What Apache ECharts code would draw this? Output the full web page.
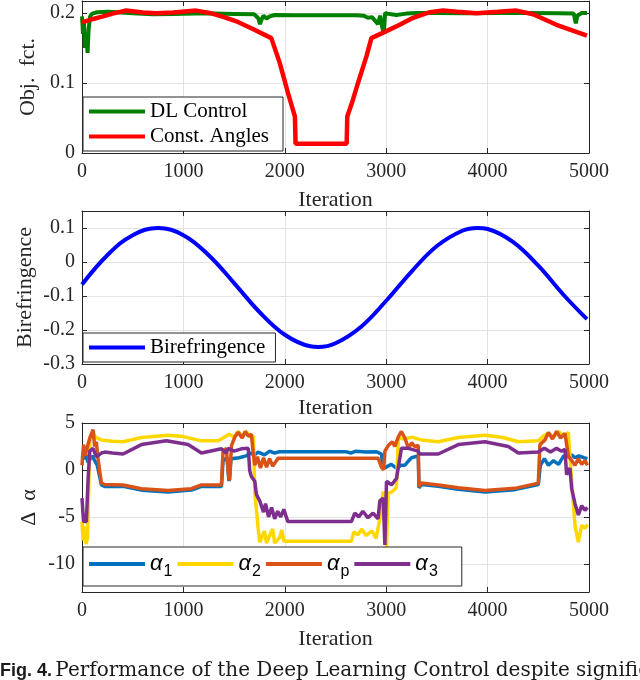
<!DOCTYPE html>
<html>
<head>
<meta charset="utf-8">
<script src="https://cdn.jsdelivr.net/npm/echarts@6/dist/echarts.min.js"></script>
<style>
  html, body { margin: 0; padding: 0; background: #fff; }
  #chart { width: 640px; height: 680px; }
</style>
</head>
<body>
<div id="chart"></div>
<script>
// values, x = iteration
const dlControl = [[0, 0.195], [10, 0.17], [20, 0.186], [30, 0.15], [45, 0.162], [55, 0.143], [65, 0.176], [80, 0.195],
  [100, 0.199], [150, 0.201], [250, 0.2015], [350, 0.201], [500, 0.1995], [700, 0.198], [900, 0.1985], [1100, 0.199],
  [1300, 0.199], [1500, 0.1985], [1700, 0.198], [1740, 0.192], [1755, 0.184], [1770, 0.19], [1790, 0.196], [1820, 0.192],
  [1850, 0.195], [1900, 0.197], [2100, 0.1968], [2400, 0.1967], [2700, 0.1968], [2780, 0.196], [2820, 0.193], [2860, 0.194],
  [2890, 0.189], [2920, 0.184], [2940, 0.196], [2960, 0.18], [2975, 0.172], [2990, 0.2], [3010, 0.199], [3050, 0.198],
  [3100, 0.197], [3200, 0.199], [3300, 0.2], [3500, 0.2], [3800, 0.1995], [4100, 0.2], [4400, 0.2], [4700, 0.1995],
  [4850, 0.199], [4870, 0.185], [4885, 0.196], [4930, 0.2], [4980, 0.2]]
const constAngles = [[0, 0.1866], [100, 0.191], [207, 0.195], [300, 0.199], [437, 0.2035], [600, 0.2005], [733, 0.1995],
  [900, 0.2005], [1127, 0.2033], [1259, 0.2], [1400, 0.194], [1522, 0.188], [1700, 0.176], [1867, 0.164], [1949, 0.129],
  [2031, 0.086], [2100, 0.052], [2106, 0.0133], [2610, 0.0133], [2616, 0.052], [2670, 0.075], [2722, 0.1], [2805, 0.138],
  [2854, 0.164], [3002, 0.174], [3133, 0.183], [3265, 0.193], [3430, 0.201], [3561, 0.2033], [3700, 0.2015], [3890, 0.1995],
  [4100, 0.2015], [4284, 0.2033], [4449, 0.198], [4679, 0.183], [4980, 0.1676]]

const birefringence = [[0, -0.066], [250, 0.02], [500, 0.079], [750, 0.1], [1000, 0.079], [1250, 0.02], [1500, -0.062],
  [1750, -0.147], [2000, -0.214], [2250, -0.248], [2330, -0.25], [2500, -0.239], [2750, -0.191], [3000, -0.114],
  [3250, -0.028], [3500, 0.047], [3750, 0.092], [3900, 0.1], [4000, 0.097], [4250, 0.059], [4500, -0.011],
  [4750, -0.097], [4980, -0.168]]

const alpha1 = [[0, 1.5], [20, 1.2], [40, 1.6], [60, 0.8], [100, 1.5], [150, 0.5], [180, -1.0], [191, -1.6], [224, -1.75],
  [405, -1.75], [586, -2.15], [849, -2.35], [1079, -2.15], [1178, -1.75], [1375, -1.75], [1391, 1.0], [1430, 1.3],
  [1450, -1.2], [1470, 1.2], [1550, 1.3], [1620, 1.5], [1660, 1.8], [1700, 1.6], [1737, 1.9], [1800, 1.6], [1850, 2.0],
  [1900, 1.8], [1950, 1.95], [2600, 1.95], [2650, 1.8], [2700, 2.0], [2800, 1.9], [2900, 1.95], [2953, 1.7], [2970, 0.2],
  [3000, 0.3], [3050, 0.6], [3100, 0.2], [3150, 0.5], [3185, 0.5], [3215, 0.9], [3250, 1.3], [3316, 1.5], [3323, -1.9],
  [3349, -1.55], [3513, -1.75], [3711, -2.05], [3974, -2.35], [4270, -2.1], [4500, -1.55], [4520, 0.5], [4560, 1.2],
  [4600, 0.5], [4650, 1.0], [4700, 0.6], [4750, 1.5], [4800, 1.4], [4829, 1.6], [4862, 1.3], [4900, 1.5], [4950, 1.3],
  [4985, 1.2]]
const alpha2 = [[0, -5.5], [10, -7.5], [25, -6], [40, -7.9], [55, -7.2], [70, 0], [80, 3.4], [109, 4.1], [130, 3.5],
  [191, 3.2], [300, 3.05], [405, 3.0], [586, 3.46], [849, 3.7], [1000, 3.55], [1178, 3.1], [1345, 3.1], [1391, 3.4],
  [1450, 3.8], [1500, 3.5], [1540, 4.1], [1580, 3.6], [1620, 4.1], [1660, 3.5], [1690, 3.6], [1704, -2.3], [1737, -6.2],
  [1753, -7.7], [1800, -6.5], [1820, -7.8], [1850, -7.0], [1880, -6.3], [1900, -7.8], [1950, -7.2], [1970, -6.4],
  [1990, -7.6], [2032, -7.6], [2657, -7.6], [2680, -6.6], [2720, -6.9], [2760, -6.3], [2800, -7.0], [2860, -6.5],
  [2900, -7.3], [2937, -5.2], [2970, -2.3], [2985, -4], [3003, -8.2], [3020, -2.5], [3060, -2.3], [3100, -1.9],
  [3120, 3.4], [3185, 3.3], [3250, 3.5], [3349, 3.2], [3513, 3.0], [3711, 3.46], [3974, 3.7], [4150, 3.45], [4303, 3.0],
  [4500, 3.1], [4550, 3.6], [4600, 3.9], [4650, 3.5], [4700, 4.1], [4750, 3.6], [4796, 4.0], [4829, -1.2], [4862, -5.9],
  [4895, -7.7], [4928, -5.9], [4960, -6.2], [4985, -5.8]]
const alphaP = [[0, 0.5], [15, 2.7], [30, 1.5], [59, 2.7], [80, 3.5], [109, 4.3], [125, 2.5], [141, 3.0], [160, 1.0],
  [174, 0.9], [191, -1.4], [224, -1.55], [405, -1.6], [586, -2.0], [849, -2.2], [1079, -2.0], [1178, -1.6], [1375, -1.6],
  [1391, 2.0], [1424, 2.3], [1445, -0.6], [1457, -1.1], [1474, 2.6], [1507, 3.5], [1540, 4.0], [1580, 3.4], [1610, 4.1],
  [1640, 3.6], [1670, 3.8], [1687, 2.0], [1704, 0.5], [1730, 1.4], [1760, 0.2], [1790, 1.3], [1820, 0.3], [1850, 1.2],
  [1880, 0.4], [1934, 1.25], [2920, 1.25], [2953, 0.3], [2975, 0], [2987, 2.0], [3020, 2.6], [3060, 3.0], [3085, 2.5],
  [3118, 3.5], [3150, 4.1], [3184, 3.4], [3220, 2.3], [3250, 2.9], [3280, 2.5], [3316, 2.6], [3323, -1.8], [3349, -1.4],
  [3513, -1.6], [3711, -1.9], [3974, -2.2], [4270, -1.96], [4500, -1.4], [4516, 2.7], [4566, 3.2], [4600, 4.0],
  [4640, 3.3], [4680, 4.1], [4720, 3.4], [4763, 3.9], [4796, 1.5], [4829, 1.0], [4862, 0.5], [4895, 1.2], [4928, 0.6],
  [4960, 1.0], [4985, 0.5]]
const alpha3 = [[0, -3.0], [15, -5.5], [43, -5.5], [60, -1], [76, 2.0], [109, 2.3], [141, 1.4], [191, 1.8], [224, 1.9],
  [300, 1.8], [405, 1.7], [586, 2.7], [833, 3.1], [1046, 2.7], [1178, 1.8], [1375, 2.25], [1420, 1.8], [1441, 2.3],
  [1500, 2.0], [1572, 2.25], [1640, 2.3], [1654, -0.1], [1670, -0.7], [1704, -1.2], [1720, -2.6], [1753, -3.3],
  [1790, -4.5], [1810, -3.6], [1840, -5.0], [1870, -4.0], [1900, -5.2], [1930, -4.4], [1960, -5.0], [1990, -4.2],
  [2030, -5.5], [2657, -5.5], [2690, -4.6], [2730, -5.0], [2770, -4.4], [2820, -5.1], [2870, -4.6], [2920, -5.2],
  [2937, -3.3], [2970, -3.0], [2987, -8.0], [3003, -1.2], [3052, -1.6], [3102, -0.9], [3150, 2.3], [3217, 2.3],
  [3316, 2.0], [3330, 1.7], [3349, 1.8], [3513, 1.7], [3711, 2.7], [3974, 3.0], [4204, 2.5], [4303, 1.8], [4500, 1.9],
  [4560, 2.3], [4620, 1.9], [4680, 2.3], [4730, 2.0], [4763, 2.2], [4779, -0.5], [4812, 0.2], [4829, -2.0],
  [4862, -3.6], [4895, -4.8], [4928, -3.8], [4960, -4.3], [4985, -4.0]]

const SERIF = 'Liberation Serif'
const AX = '#262626'
const GRIDC = '#e3e3e3'

function xAxes(gi, nameGap) {
  return [
    {
      type: 'value', gridIndex: gi, position: 'bottom', min: 0, max: 5000, interval: 1000,
      name: 'Iteration', nameLocation: 'middle', nameGap: nameGap,
      nameTextStyle: { fontFamily: SERIF, fontSize: 22, color: AX },
      axisLine: { onZero: false, lineStyle: { color: AX } },
      axisTick: { inside: true, length: 5, lineStyle: { color: AX } },
      axisLabel: { fontFamily: SERIF, fontSize: 20, color: AX, margin: 9, formatter: v => String(v) },
      splitLine: { lineStyle: { color: GRIDC } }
    },
    {
      type: 'value', gridIndex: gi, position: 'top', min: 0, max: 5000, interval: 1000,
      axisLine: { onZero: false, lineStyle: { color: AX } },
      axisTick: { inside: true, length: 5, lineStyle: { color: AX } },
      axisLabel: { show: false }, splitLine: { show: false }
    }
  ]
}

function yAxes(gi, min, max, step, name, nameGap, fmt) {
  const base = { type: 'value', gridIndex: gi, min: min, max: max, minInterval: step, maxInterval: step, splitNumber: 4 }
  return [
    Object.assign({}, base, {
      position: 'left',
      name: name, nameLocation: 'middle', nameGap: nameGap, nameMoveOverlap: false,
      nameTextStyle: { fontFamily: SERIF, fontSize: 22, color: AX },
      axisLine: { show: true, onZero: false, lineStyle: { color: AX } },
      axisTick: { show: true, inside: true, length: 5, lineStyle: { color: AX } },
      axisLabel: { fontFamily: SERIF, fontSize: 20, color: AX, margin: 7, formatter: fmt },
      splitLine: { lineStyle: { color: GRIDC } }
    }),
    Object.assign({}, base, {
      position: 'right',
      axisLine: { show: true, onZero: false, lineStyle: { color: AX } },
      axisTick: { show: true, inside: true, length: 5, lineStyle: { color: AX } },
      axisLabel: { show: false }, splitLine: { show: false }
    })
  ]
}

// only label the round ticks, not the padded axis ends
const fmtTenth = v => Math.abs(v * 10 - Math.round(v * 10)) < 1e-6 ? String(+v.toFixed(1)) : ''
const fmtFive = v => v % 5 === 0 ? String(v) : ''

function line(name, data, color, xi, yi, width, smooth) {
  return {
    name: name, type: 'line', data: data, xAxisIndex: xi, yAxisIndex: yi,
    symbol: 'none', smooth: smooth || false, color: color,
    lineStyle: { color: color, width: width }
  }
}

function legendBox(extra) {
  return Object.assign({
    left: 83, icon: 'rect', itemWidth: 56, itemHeight: 4,
    borderColor: AX, borderWidth: 1, borderRadius: 0, backgroundColor: '#fff',
    selectedMode: false,
    textStyle: { fontFamily: SERIF, fontSize: 21, color: '#000' }
  }, extra)
}

const alphaRich = {
  a: { fontFamily: 'Liberation Sans', fontStyle: 'italic', fontSize: 22, color: '#000' },
  s: { fontFamily: 'Liberation Sans', fontSize: 16, color: '#000', padding: [16, 0, 0, 1] }
}

const chart = echarts.init(document.getElementById('chart'))
chart.setOption({
  animation: false,
  backgroundColor: '#fff',
  grid: [
    { left: 82, right: 51, top: 1, height: 152 },
    { left: 82, right: 51, top: 211, height: 153 },
    { left: 82, right: 51, top: 423, height: 169 }
  ],
  xAxis: [].concat(xAxes(0, 36), xAxes(1, 33), xAxes(2, 36)),
  yAxis: [].concat(
    yAxes(0, 0, 0.217, 0.1, 'Obj.  fct.', 43, fmtTenth),
    yAxes(1, -0.3, 0.15, 0.1, 'Birefringence', 46, fmtTenth),
    yAxes(2, -13, 5, 5, 'Δ  α', 42, fmtFive)
  ),
  legend: [
    legendBox({ top: 97, orient: 'vertical', itemGap: 4, padding: [4, 14, 4, 6], data: ['DL Control', 'Const. Angles'] }),
    legendBox({ top: 333, orient: 'vertical', padding: [4, 10, 4, 6], data: ['Birefringence'] }),
    legendBox({
      top: 547, orient: 'horizontal', itemGap: 5, padding: [6, 24, 6, 6],
      data: ['α1', 'α2', 'αp', 'α3'],
      formatter: n => '{a|α}{s|' + n.slice(1) + '}',
      textStyle: { rich: alphaRich }
    })
  ],
  series: [
    line('DL Control', dlControl, '#008000', 0, 0, 4),
    line('Const. Angles', constAngles, '#ff0000', 0, 0, 4.5),
    line('Birefringence', birefringence, '#0000ff', 2, 2, 4, 0.4),
    line('α1', alpha1, '#0072bd', 4, 4, 3.5),
    line('α2', alpha2, '#ffd700', 4, 4, 3.5),
    line('αp', alphaP, '#d95319', 4, 4, 3.5),
    line('α3', alpha3, '#7e2f8e', 4, 4, 3.5)
  ],
  graphic: [{
    type: 'text', left: 0, top: 661,
    style: {
      text: '{b|Fig. 4.} {r|Performance of the Deep Learning Control despite significant}',
      rich: {
        b: { fontFamily: 'Liberation Sans', fontWeight: 'bold', fontSize: 18, fill: '#1a1a1a' },
        r: { fontFamily: 'DejaVu Serif', fontSize: 20, fill: '#1a1a1a' }
      }
    }
  }]
})
</script>
</body>
</html>
